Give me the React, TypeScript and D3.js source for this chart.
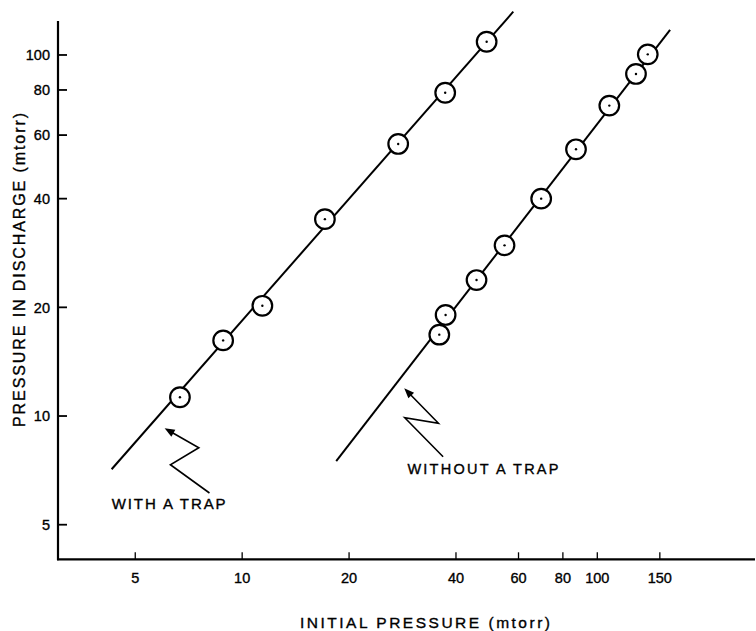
import React from "react";
import * as d3 from "d3";

// ---- data ----
const xTicks = [5, 10, 20, 40, 60, 80, 100, 150];
const yTicks = [5, 10, 20, 40, 60, 80, 100];

const withTrapX = [6.68, 8.84, 11.4, 17.1, 27.5, 37.3, 48.8];
const withTrapY = [11.27, 16.2, 20.2, 35.1, 56.7, 78.6, 108.8];
const withTrapFitX = [4.29, 58.0];
const withTrapFitY = [7.12, 131.8];

const withoutTrapX = [35.9, 37.4, 45.7, 54.8, 69.5, 87.1, 108.1, 128.5, 138.7];
const withoutTrapY = [16.8, 19.05, 23.8, 29.7, 40.0, 54.8, 72.4, 88.6, 100.4];
const withoutTrapFitX = [18.4, 160.3];
const withoutTrapFitY = [7.5, 117.3];

// annotation arrows (data units): tip first
const withArrowX = [6.05, 7.55, 6.28, 8.09];
const withArrowY = [9.25, 8.17, 7.33, 6.12];
const withoutArrowX = [28.6, 35.7, 28.7, 36.8];
const withoutArrowY = [11.93, 9.55, 9.89, 7.71];

const labels = {
  x: "INITIAL  PRESSURE  (mtorr)",
  y: "PRESSURE  IN  DISCHARGE  (mtorr)",
  withTrap: "WITH  A  TRAP",
  withoutTrap: "WITHOUT  A  TRAP",
};
const withTrapLabelPos = [4.29, 5.51];
const withoutTrapLabelPos = [29.2, 6.93];

const W = 756;
const H = 631;
const M = { left: 58, right: 755, top: 21, bottom: 559.3 };
const FONT = "'Liberation Sans', Arial, sans-serif";
const TS = { stroke: "#000", strokeWidth: 0.35 };

export default function App() {
  const x = d3.scaleLog().domain([3.03, 278]).range([M.left, M.right]);
  const y = d3.scaleLog().domain([4.01, 124.2]).range([M.bottom, M.top]);
  const line = d3
    .line<[number, number]>()
    .x((d) => x(d[0]))
    .y((d) => y(d[1]));

  const zip = (a: number[], b: number[]) =>
    a.map((v, i) => [v, b[i]] as [number, number]);

  const arrow = (ax: number[], ay: number[]) => {
    const pts = zip(ax, ay);
    const [tx, ty] = [x(pts[0][0]), y(pts[0][1])];
    const [bx, by] = [x(pts[1][0]), y(pts[1][1])];
    const dx = tx - bx;
    const dy = ty - by;
    const len = Math.hypot(dx, dy);
    const ux = dx / len;
    const uy = dy / len;
    const hl = 10;
    const hw = 4;
    const baseX = tx - ux * hl;
    const baseY = ty - uy * hl;
    const head = [
      [tx, ty],
      [baseX - uy * hw, baseY + ux * hw],
      [baseX + uy * hw, baseY - ux * hw],
    ]
      .map((p) => p.join(","))
      .join(" ");
    const shaft: [number, number][] = pts.map((p) => [x(p[0]), y(p[1])]);
    shaft[0] = [baseX + ux * 2, baseY + uy * 2];
    return (
      <g>
        <path
          d={d3.line()(shaft) || ""}
          fill="none"
          stroke="#000"
          strokeWidth={1.6}
          strokeLinejoin="miter"
        />
        <polygon points={head} fill="#000" />
      </g>
    );
  };

  const series = [
    { xs: withTrapX, ys: withTrapY, fx: withTrapFitX, fy: withTrapFitY },
    { xs: withoutTrapX, ys: withoutTrapY, fx: withoutTrapFitX, fy: withoutTrapFitY },
  ];

  return (
    <svg
      width={W}
      height={H}
      style={{ position: "absolute", left: 0, top: 0, background: "#fff" }}
      fontFamily={FONT}
    >
      <rect x={0} y={0} width={W} height={H} fill="#fff" />
      {/* axes */}
      <line x1={M.left} y1={M.top} x2={M.left} y2={M.bottom + 1} stroke="#000" strokeWidth={2.2} />
      <line x1={M.left - 1} y1={M.bottom} x2={M.right} y2={M.bottom} stroke="#000" strokeWidth={2.2} />
      {yTicks.map((t) => (
        <g key={"y" + t}>
          <line x1={M.left} x2={M.left + 9} y1={y(t)} y2={y(t)} stroke="#000" strokeWidth={1.8} />
          <text x={M.left - 8} y={y(t)} dy="0.36em" textAnchor="end" fontSize={14.5} {...TS}>
            {t}
          </text>
        </g>
      ))}
      {xTicks.map((t) => (
        <g key={"x" + t}>
          <line x1={x(t)} x2={x(t)} y1={M.bottom} y2={M.bottom - 7} stroke="#000" strokeWidth={1.3} />
          <text x={x(t)} y={583} textAnchor="middle" fontSize={14.5} {...TS}>
            {t}
          </text>
        </g>
      ))}
      {/* axis titles */}
      <text
        x={425}
        y={628}
        textAnchor="middle"
        fontSize={15.5}
        textLength={250}
        lengthAdjust="spacing"
        {...TS}
      >
        {labels.x}
      </text>
      <text
        transform={`translate(25,270) rotate(-90)`}
        textAnchor="middle"
        fontSize={16}
        textLength={314}
        lengthAdjust="spacing"
        {...TS}
      >
        {labels.y}
      </text>
      {/* fit lines */}
      {series.map((s, i) => (
        <path
          key={"l" + i}
          d={line(zip(s.fx, s.fy)) || ""}
          fill="none"
          stroke="#000"
          strokeWidth={2}
        />
      ))}
      {/* points */}
      {series.map((s, i) =>
        zip(s.xs, s.ys).map((p, j) => (
          <g key={`p${i}-${j}`}>
            <circle cx={x(p[0])} cy={y(p[1])} r={9.8} fill="#fff" stroke="#000" strokeWidth={2.2} />
            <circle cx={x(p[0])} cy={y(p[1])} r={1.2} fill="#000" />
          </g>
        ))
      )}
      {/* annotations */}
      {arrow(withArrowX, withArrowY)}
      {arrow(withoutArrowX, withoutArrowY)}
      <text
        x={x(withTrapLabelPos[0])}
        y={y(withTrapLabelPos[1])}
        fontSize={15}
        textLength={114}
        lengthAdjust="spacing"
        {...TS}
      >
        {labels.withTrap}
      </text>
      <text
        x={x(withoutTrapLabelPos[0])}
        y={y(withoutTrapLabelPos[1])}
        fontSize={14.5}
        textLength={151}
        lengthAdjust="spacing"
        {...TS}
      >
        {labels.withoutTrap}
      </text>
    </svg>
  );
}
